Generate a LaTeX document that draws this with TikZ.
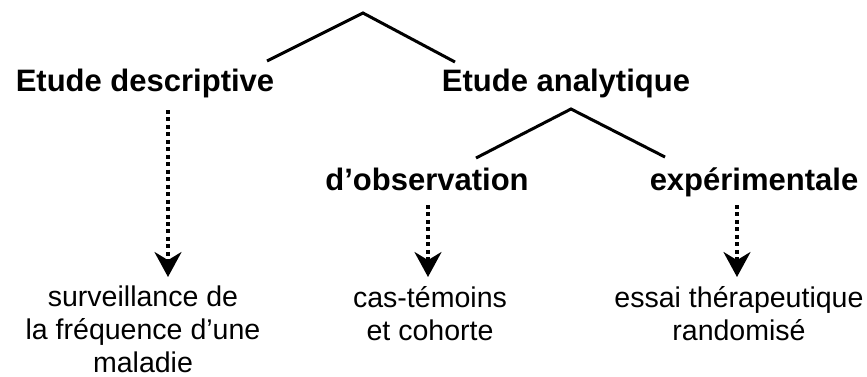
\documentclass[tikz,border=0pt]{standalone}
\usepackage{fontspec}
\setmainfont{Liberation Sans}
\usetikzlibrary{arrows.meta,calc}
\tikzset{>=Stealth}
\tikzset{
    boldlabel/.style={font=\bfseries\fontsize{23.25}{26}\selectfont,inner sep=0pt,anchor=base},
    textlabel/.style={font=\fontsize{21.4}{24.4}\selectfont,align=center,inner sep=0pt,anchor=base},
    branch/.style={line width=2.25pt,line join=miter},
    dotarrow/.style={line width=2.6pt,dash pattern=on 3pt off 2.6pt,-{Stealth[length=18.75pt,width=20.25pt]}}
}

\begin{document}
\begin{tikzpicture}[x=0.75pt,y=-0.75pt]
    \useasboundingbox (0,0) rectangle (867,376);

    \coordinate (Top) at (363,13);
    \coordinate (TopL) at (267,61);
    \coordinate (TopR) at (455,62);
    \coordinate (Sub) at (571,109);
    \coordinate (SubL) at (476,158);
    \coordinate (SubR) at (665,157);

    \node[boldlabel] (desc) at (145,91) {Etude descriptive};
    \node[boldlabel] (anal) at (566,91) {Etude analytique};
    \node[boldlabel] (obs) at (427,190) {d’observation};
    \node[boldlabel] (exp) at (754,190) {expérimentale};

    % base of a multi-line node = last line
    \node[textlabel] (surv) at (143,372) {surveillance de\\la fréquence d’une\\maladie};
    \node[textlabel] (cas) at (430,340) {cas-témoins\\et cohorte};
    \node[textlabel] (essai) at (739,340) {essai thérapeutique\\randomisé};

    \draw[branch] (TopL) -- (Top) -- (TopR);
    \draw[branch] (SubL) -- (Sub) -- (SubR);

    \draw[dotarrow] ($(desc.base)+(23,19)$) -- ($(surv.base)+(25,-95)$);
    \draw[dotarrow] ($(obs.base)+(1,15)$) -- ($(cas.base)+(-2,-63)$);
    \draw[dotarrow] ($(exp.base)+(-17,15)$) -- ($(essai.base)+(-2,-63)$);
\end{tikzpicture}
\end{document}
